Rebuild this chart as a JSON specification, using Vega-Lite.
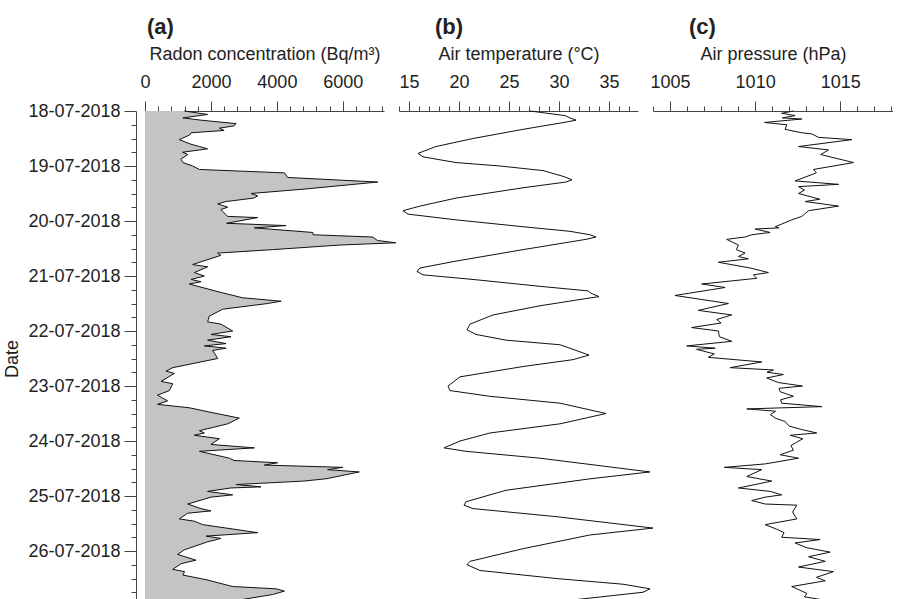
{
  "$schema": "https://vega.github.io/schema/vega-lite/v6.json",
  "padding": {"left": 3, "top": 16, "right": 0, "bottom": 0},
  "spacing": 15,
  "bounds": "flush",
  "config": {
    "view": {"stroke": null},
    "font": "Liberation Sans",
    "axis": {
      "labelFont": "Liberation Sans", "titleFont": "Liberation Sans",
      "labelFontSize": 18, "titleFontSize": 18, "titleFontWeight": "normal",
      "labelColor": "#222", "titleColor": "#222",
      "domainColor": "#444", "tickColor": "#444", "grid": false,
      "labelOverlap": false, "labelFlush": false
    },
    "title": {"font": "Liberation Sans", "fontSize": 22, "fontWeight": "bold", "color": "#222", "anchor": "start", "frame": "group", "offset": 6}
  },
  "datasets": {
    "radon": [
      {"d":"2018-07-18T00:00","v":1190},{"d":"2018-07-18T01:30","v":1900},{"d":"2018-07-18T03:00","v":1150},{"d":"2018-07-18T04:00","v":1700},
      {"d":"2018-07-18T05:30","v":2760},{"d":"2018-07-18T06:30","v":2700},{"d":"2018-07-18T07:30","v":2255},{"d":"2018-07-18T08:30","v":2400},
      {"d":"2018-07-18T09:30","v":1395},{"d":"2018-07-18T10:30","v":1350},{"d":"2018-07-18T12:30","v":1040},{"d":"2018-07-18T14:30","v":1395},
      {"d":"2018-07-18T15:30","v":1650},{"d":"2018-07-18T16:30","v":1900},{"d":"2018-07-18T18:00","v":1140},{"d":"2018-07-18T19:00","v":1300},
      {"d":"2018-07-18T21:00","v":1090},{"d":"2018-07-18T22:30","v":1150},{"d":"2018-07-19T00:00","v":1445},{"d":"2018-07-19T01:30","v":1650},
      {"d":"2018-07-19T03:00","v":4230},{"d":"2018-07-19T05:00","v":4330},{"d":"2018-07-19T07:00","v":7060},{"d":"2018-07-19T10:00","v":4890},
      {"d":"2018-07-19T12:00","v":3215},{"d":"2018-07-19T13:00","v":3420},{"d":"2018-07-19T14:00","v":3300},{"d":"2018-07-19T15:30","v":2460},
      {"d":"2018-07-19T16:30","v":2205},{"d":"2018-07-19T18:00","v":2510},{"d":"2018-07-19T19:00","v":2300},{"d":"2018-07-19T22:00","v":2510},
      {"d":"2018-07-19T22:30","v":3420},{"d":"2018-07-20T01:00","v":2475},{"d":"2018-07-20T02:00","v":4280},{"d":"2018-07-20T03:00","v":3320},
      {"d":"2018-07-20T05:00","v":5090},{"d":"2018-07-20T06:00","v":5100},{"d":"2018-07-20T07:00","v":6910},{"d":"2018-07-20T08:30","v":7050},
      {"d":"2018-07-20T09:30","v":7610},{"d":"2018-07-20T10:30","v":5900},{"d":"2018-07-20T12:30","v":3870},{"d":"2018-07-20T14:00","v":2205},
      {"d":"2018-07-20T15:00","v":2300},{"d":"2018-07-20T19:00","v":1445},{"d":"2018-07-20T20:00","v":1900},{"d":"2018-07-20T22:30","v":1495},
      {"d":"2018-07-21T00:00","v":1800},{"d":"2018-07-21T01:30","v":1400},{"d":"2018-07-21T02:30","v":1700},{"d":"2018-07-21T03:30","v":1345},
      {"d":"2018-07-21T07:00","v":2255},{"d":"2018-07-21T09:30","v":2960},{"d":"2018-07-21T11:00","v":4130},{"d":"2018-07-21T12:00","v":3720},
      {"d":"2018-07-21T14:30","v":2355},{"d":"2018-07-21T17:30","v":1950},{"d":"2018-07-21T20:00","v":1900},{"d":"2018-07-21T21:00","v":2305},
      {"d":"2018-07-22T00:00","v":2660},{"d":"2018-07-22T01:30","v":2000},{"d":"2018-07-22T02:30","v":2610},{"d":"2018-07-22T04:00","v":1900},
      {"d":"2018-07-22T05:30","v":2460},{"d":"2018-07-22T06:30","v":1800},{"d":"2018-07-22T07:30","v":2460},{"d":"2018-07-22T08:30","v":2050},
      {"d":"2018-07-22T09:30","v":2100},{"d":"2018-07-22T12:00","v":2205},{"d":"2018-07-22T16:00","v":840},{"d":"2018-07-22T17:30","v":640},
      {"d":"2018-07-22T18:30","v":890},{"d":"2018-07-22T22:00","v":485},{"d":"2018-07-22T23:00","v":840},{"d":"2018-07-23T02:00","v":740},
      {"d":"2018-07-23T04:00","v":380},{"d":"2018-07-23T06:30","v":685},{"d":"2018-07-23T08:00","v":380},{"d":"2018-07-23T09:30","v":1345},
      {"d":"2018-07-23T11:30","v":2000},{"d":"2018-07-23T14:00","v":2860},{"d":"2018-07-23T16:30","v":2510},{"d":"2018-07-23T19:30","v":1650},
      {"d":"2018-07-23T20:30","v":1800},{"d":"2018-07-23T21:30","v":1495},{"d":"2018-07-23T23:00","v":2255},{"d":"2018-07-24T01:30","v":2000},
      {"d":"2018-07-24T03:00","v":3320},{"d":"2018-07-24T04:30","v":1650},{"d":"2018-07-24T07:30","v":2560},{"d":"2018-07-24T08:30","v":2700},
      {"d":"2018-07-24T09:30","v":4020},{"d":"2018-07-24T10:30","v":3620},{"d":"2018-07-24T11:30","v":6000},{"d":"2018-07-24T12:30","v":5540},
      {"d":"2018-07-24T13:30","v":6500},{"d":"2018-07-24T16:30","v":5490},{"d":"2018-07-24T17:30","v":4800},{"d":"2018-07-24T19:00","v":2760},
      {"d":"2018-07-24T20:00","v":3520},{"d":"2018-07-24T20:30","v":2600},{"d":"2018-07-24T22:00","v":1900},{"d":"2018-07-24T23:30","v":2660},
      {"d":"2018-07-25T00:30","v":2000},{"d":"2018-07-25T03:30","v":1295},{"d":"2018-07-25T05:30","v":1700},{"d":"2018-07-25T06:30","v":2000},
      {"d":"2018-07-25T07:30","v":1295},{"d":"2018-07-25T10:00","v":1040},{"d":"2018-07-25T11:00","v":1500},{"d":"2018-07-25T12:30","v":1750},
      {"d":"2018-07-25T16:00","v":3420},{"d":"2018-07-25T17:30","v":1850},{"d":"2018-07-25T18:30","v":2305},{"d":"2018-07-25T20:00","v":1900},
      {"d":"2018-07-25T23:30","v":1190},{"d":"2018-07-26T01:30","v":990},{"d":"2018-07-26T04:00","v":1545},{"d":"2018-07-26T05:30","v":1100},
      {"d":"2018-07-26T08:00","v":840},{"d":"2018-07-26T09:00","v":1200},{"d":"2018-07-26T10:30","v":1150},{"d":"2018-07-26T12:30","v":1850},
      {"d":"2018-07-26T15:30","v":2660},{"d":"2018-07-26T16:30","v":3975},{"d":"2018-07-26T17:30","v":4230},{"d":"2018-07-26T19:00","v":3870},
      {"d":"2018-07-26T21:30","v":2810},{"d":"2018-07-27T00:00","v":2500}
    ],
    "temp": [
      {"d":"2018-07-18T00:00","v":27.1},{"d":"2018-07-18T02:00","v":30.6},{"d":"2018-07-18T03:00","v":31.1},{"d":"2018-07-18T04:00","v":31.7},
      {"d":"2018-07-18T05:00","v":30.5},{"d":"2018-07-18T08:00","v":26.4},{"d":"2018-07-18T12:00","v":21.4},{"d":"2018-07-18T15:30","v":17.7},
      {"d":"2018-07-18T18:30","v":15.9},{"d":"2018-07-18T20:00","v":16.4},{"d":"2018-07-18T22:30","v":19.7},{"d":"2018-07-19T00:00","v":24.1},
      {"d":"2018-07-19T02:00","v":28.4},{"d":"2018-07-19T04:30","v":30.4},{"d":"2018-07-19T06:00","v":31.3},{"d":"2018-07-19T07:00","v":30.7},
      {"d":"2018-07-19T09:30","v":26.4},{"d":"2018-07-19T14:00","v":19.7},{"d":"2018-07-19T17:30","v":16.1},{"d":"2018-07-19T19:30","v":14.4},
      {"d":"2018-07-19T21:00","v":14.9},{"d":"2018-07-19T23:30","v":19.7},{"d":"2018-07-20T02:30","v":26.4},{"d":"2018-07-20T04:30","v":31.1},
      {"d":"2018-07-20T06:00","v":33.1},{"d":"2018-07-20T07:00","v":33.7},{"d":"2018-07-20T08:00","v":32.7},{"d":"2018-07-20T12:30","v":26.4},
      {"d":"2018-07-20T17:30","v":19.7},{"d":"2018-07-20T20:30","v":16.1},{"d":"2018-07-20T22:00","v":15.8},{"d":"2018-07-20T23:30","v":16.4},
      {"d":"2018-07-21T01:30","v":21.4},{"d":"2018-07-21T04:30","v":28.1},{"d":"2018-07-21T06:30","v":32.9},{"d":"2018-07-21T07:30","v":33.2},
      {"d":"2018-07-21T09:00","v":34.0},{"d":"2018-07-21T09:30","v":33.2},{"d":"2018-07-21T13:00","v":28.1},{"d":"2018-07-21T17:00","v":23.4},
      {"d":"2018-07-21T21:00","v":21.1},{"d":"2018-07-21T23:30","v":20.8},{"d":"2018-07-22T01:30","v":21.7},{"d":"2018-07-22T04:00","v":24.7},
      {"d":"2018-07-22T06:00","v":30.1},{"d":"2018-07-22T08:00","v":31.4},{"d":"2018-07-22T10:30","v":33.0},{"d":"2018-07-22T12:30","v":31.4},
      {"d":"2018-07-22T15:30","v":26.4},{"d":"2018-07-22T20:00","v":20.1},{"d":"2018-07-23T00:00","v":18.9},{"d":"2018-07-23T02:00","v":19.1},
      {"d":"2018-07-23T04:30","v":23.1},{"d":"2018-07-23T07:30","v":30.1},{"d":"2018-07-23T12:00","v":34.7},{"d":"2018-07-23T16:30","v":30.1},
      {"d":"2018-07-23T20:30","v":23.1},{"d":"2018-07-24T00:00","v":20.1},{"d":"2018-07-24T03:00","v":18.5},{"d":"2018-07-24T04:30","v":20.7},
      {"d":"2018-07-24T07:30","v":28.1},{"d":"2018-07-24T13:30","v":39.1},{"d":"2018-07-24T16:30","v":33.1},{"d":"2018-07-24T21:30","v":24.7},
      {"d":"2018-07-25T02:30","v":20.7},{"d":"2018-07-25T04:00","v":20.5},{"d":"2018-07-25T05:30","v":21.4},{"d":"2018-07-25T09:00","v":29.7},
      {"d":"2018-07-25T14:00","v":39.4},{"d":"2018-07-25T17:00","v":33.1},{"d":"2018-07-25T23:00","v":26.4},{"d":"2018-07-26T04:30","v":21.1},
      {"d":"2018-07-26T06:00","v":20.8},{"d":"2018-07-26T08:30","v":22.1},{"d":"2018-07-26T12:00","v":29.7},{"d":"2018-07-26T14:30","v":36.4},
      {"d":"2018-07-26T16:30","v":39.1},{"d":"2018-07-26T18:00","v":38.4},{"d":"2018-07-26T21:30","v":31.1},{"d":"2018-07-27T00:00","v":28.5}
    ],
    "pres": [
      {"d":"2018-07-18T00:00","v":1012.25},{"d":"2018-07-18T01:00","v":1011.56},{"d":"2018-07-18T02:00","v":1012.35},{"d":"2018-07-18T03:00","v":1011.6},
      {"d":"2018-07-18T03:30","v":1012.74},{"d":"2018-07-18T05:00","v":1010.55},{"d":"2018-07-18T06:00","v":1011.86},{"d":"2018-07-18T08:00","v":1011.76},
      {"d":"2018-07-18T09:30","v":1012.74},{"d":"2018-07-18T10:00","v":1013.33},{"d":"2018-07-18T11:30","v":1013.72},{"d":"2018-07-18T12:30","v":1015.68},
      {"d":"2018-07-18T15:30","v":1012.55},{"d":"2018-07-18T17:00","v":1014.31},{"d":"2018-07-18T19:00","v":1013.85},{"d":"2018-07-18T22:30","v":1015.78},
      {"d":"2018-07-19T01:30","v":1013.43},{"d":"2018-07-19T03:00","v":1013.6},{"d":"2018-07-19T06:30","v":1012.35},{"d":"2018-07-19T08:00","v":1014.9},
      {"d":"2018-07-19T09:00","v":1012.55},{"d":"2018-07-19T10:30","v":1012.9},{"d":"2018-07-19T12:00","v":1012.55},{"d":"2018-07-19T14:30","v":1013.8},
      {"d":"2018-07-19T15:30","v":1012.94},{"d":"2018-07-19T17:30","v":1014.9},{"d":"2018-07-19T19:30","v":1013.14},{"d":"2018-07-19T22:00","v":1012.74},
      {"d":"2018-07-19T23:30","v":1012.15},{"d":"2018-07-20T02:30","v":1011.18},{"d":"2018-07-20T03:00","v":1011.4},{"d":"2018-07-20T03:30","v":1010.0},
      {"d":"2018-07-20T05:00","v":1010.88},{"d":"2018-07-20T06:00","v":1009.8},{"d":"2018-07-20T07:00","v":1009.41},{"d":"2018-07-20T08:00","v":1008.33},
      {"d":"2018-07-20T10:30","v":1009.02},{"d":"2018-07-20T12:30","v":1008.9},{"d":"2018-07-20T14:00","v":1009.41},{"d":"2018-07-20T15:30","v":1009.02},
      {"d":"2018-07-20T16:30","v":1009.6},{"d":"2018-07-20T18:00","v":1007.84},{"d":"2018-07-20T20:30","v":1009.7},{"d":"2018-07-20T22:30","v":1010.78},
      {"d":"2018-07-20T23:30","v":1009.9},{"d":"2018-07-21T01:00","v":1010.1},{"d":"2018-07-21T03:30","v":1006.86},{"d":"2018-07-21T05:00","v":1008.24},
      {"d":"2018-07-21T06:00","v":1007.4},{"d":"2018-07-21T08:30","v":1005.29},{"d":"2018-07-21T12:00","v":1008.43},{"d":"2018-07-21T15:00","v":1006.66},
      {"d":"2018-07-21T17:00","v":1008.63},{"d":"2018-07-21T19:00","v":1007.74},{"d":"2018-07-21T20:30","v":1008.0},{"d":"2018-07-21T22:30","v":1006.27},
      {"d":"2018-07-22T00:00","v":1007.84},{"d":"2018-07-22T02:30","v":1007.9},{"d":"2018-07-22T04:30","v":1008.63},{"d":"2018-07-22T06:30","v":1005.98},
      {"d":"2018-07-22T07:30","v":1007.65},{"d":"2018-07-22T08:00","v":1006.56},{"d":"2018-07-22T10:00","v":1007.6},{"d":"2018-07-22T11:30","v":1007.25},
      {"d":"2018-07-22T13:30","v":1010.39},{"d":"2018-07-22T16:00","v":1008.53},{"d":"2018-07-22T17:00","v":1011.08},{"d":"2018-07-22T18:00","v":1010.7},
      {"d":"2018-07-22T19:00","v":1011.66},{"d":"2018-07-22T20:30","v":1010.68},{"d":"2018-07-22T22:30","v":1011.37},{"d":"2018-07-23T00:00","v":1012.78},
      {"d":"2018-07-23T01:00","v":1011.4},{"d":"2018-07-23T02:30","v":1011.47},{"d":"2018-07-23T04:30","v":1012.25},{"d":"2018-07-23T06:00","v":1011.5},
      {"d":"2018-07-23T07:30","v":1011.56},{"d":"2018-07-23T09:00","v":1013.92},{"d":"2018-07-23T10:00","v":1009.51},{"d":"2018-07-23T11:00","v":1011.2},
      {"d":"2018-07-23T12:30","v":1010.9},{"d":"2018-07-23T14:00","v":1011.18},{"d":"2018-07-23T15:30","v":1011.76},{"d":"2018-07-23T17:30","v":1012.0},
      {"d":"2018-07-23T19:00","v":1012.74},{"d":"2018-07-23T20:30","v":1013.62},{"d":"2018-07-23T21:30","v":1012.06},{"d":"2018-07-23T23:00","v":1012.8},
      {"d":"2018-07-24T00:30","v":1012.45},{"d":"2018-07-24T02:00","v":1012.1},{"d":"2018-07-24T04:00","v":1012.25},{"d":"2018-07-24T06:00","v":1011.47},
      {"d":"2018-07-24T07:30","v":1012.55},{"d":"2018-07-24T10:00","v":1010.59},{"d":"2018-07-24T11:30","v":1008.19},{"d":"2018-07-24T12:30","v":1010.39},
      {"d":"2018-07-24T15:30","v":1009.51},{"d":"2018-07-24T17:30","v":1010.98},{"d":"2018-07-24T20:30","v":1009.02},{"d":"2018-07-24T22:00","v":1010.9},
      {"d":"2018-07-24T23:30","v":1011.56},{"d":"2018-07-25T00:30","v":1010.59},{"d":"2018-07-25T02:00","v":1009.8},{"d":"2018-07-25T03:30","v":1010.59},
      {"d":"2018-07-25T04:00","v":1012.45},{"d":"2018-07-25T07:00","v":1012.2},{"d":"2018-07-25T10:00","v":1012.45},{"d":"2018-07-25T12:30","v":1010.59},
      {"d":"2018-07-25T14:30","v":1011.27},{"d":"2018-07-25T16:00","v":1011.7},{"d":"2018-07-25T18:00","v":1011.56},{"d":"2018-07-25T19:00","v":1013.82},
      {"d":"2018-07-25T20:30","v":1012.35},{"d":"2018-07-25T22:30","v":1013.0},{"d":"2018-07-26T00:30","v":1014.41},{"d":"2018-07-26T02:30","v":1013.14},
      {"d":"2018-07-26T04:30","v":1014.12},{"d":"2018-07-26T07:00","v":1012.55},{"d":"2018-07-26T09:00","v":1014.6},{"d":"2018-07-26T11:30","v":1013.6},
      {"d":"2018-07-26T13:00","v":1014.12},{"d":"2018-07-26T15:30","v":1012.15},{"d":"2018-07-26T18:30","v":1013.04},{"d":"2018-07-26T20:00","v":1012.9},
      {"d":"2018-07-26T21:30","v":1014.12},{"d":"2018-07-27T00:00","v":1013.5}
    ]
  },
  "hconcat": [
    {
      "width": 239, "height": 495,
      "title": {"text": "(a)", "dx": 2},
      "data": {"name": "radon"},
      "encoding": {
        "y": {"field": "d", "type": "temporal",
          "scale": {"domain": [{"year": 2018, "month": 7, "date": 18}, {"year": 2018, "month": 7, "date": 27}], "reverse": true, "nice": false},
          "axis": {"title": "Date", "orient": "left", "offset": 9,
            "values": [
              {"year":2018,"month":7,"date":18,"hours":0},{"year":2018,"month":7,"date":18,"hours":6},{"year":2018,"month":7,"date":18,"hours":12},{"year":2018,"month":7,"date":18,"hours":18},
              {"year":2018,"month":7,"date":19,"hours":0},{"year":2018,"month":7,"date":19,"hours":6},{"year":2018,"month":7,"date":19,"hours":12},{"year":2018,"month":7,"date":19,"hours":18},
              {"year":2018,"month":7,"date":20,"hours":0},{"year":2018,"month":7,"date":20,"hours":6},{"year":2018,"month":7,"date":20,"hours":12},{"year":2018,"month":7,"date":20,"hours":18},
              {"year":2018,"month":7,"date":21,"hours":0},{"year":2018,"month":7,"date":21,"hours":6},{"year":2018,"month":7,"date":21,"hours":12},{"year":2018,"month":7,"date":21,"hours":18},
              {"year":2018,"month":7,"date":22,"hours":0},{"year":2018,"month":7,"date":22,"hours":6},{"year":2018,"month":7,"date":22,"hours":12},{"year":2018,"month":7,"date":22,"hours":18},
              {"year":2018,"month":7,"date":23,"hours":0},{"year":2018,"month":7,"date":23,"hours":6},{"year":2018,"month":7,"date":23,"hours":12},{"year":2018,"month":7,"date":23,"hours":18},
              {"year":2018,"month":7,"date":24,"hours":0},{"year":2018,"month":7,"date":24,"hours":6},{"year":2018,"month":7,"date":24,"hours":12},{"year":2018,"month":7,"date":24,"hours":18},
              {"year":2018,"month":7,"date":25,"hours":0},{"year":2018,"month":7,"date":25,"hours":6},{"year":2018,"month":7,"date":25,"hours":12},{"year":2018,"month":7,"date":25,"hours":18},
              {"year":2018,"month":7,"date":26,"hours":0},{"year":2018,"month":7,"date":26,"hours":6},{"year":2018,"month":7,"date":26,"hours":12},{"year":2018,"month":7,"date":26,"hours":18}
            ],
            "labelExpr": "hours(datum.value) === 0 ? timeFormat(datum.value, '%d-%m-%Y') : ''",
            "tickSize": 12,
            "tickDash": {"condition": {"test": "hours(datum.value) !== 0", "value": [5, 30]}, "value": []},
            "labelPadding": 4, "titlePadding": 6}},
        "x": {"field": "v", "type": "quantitative", "stack": null,
          "scale": {"domain": [0, 7250], "nice": false},
          "axis": {"title": "Radon concentration (Bq/m³)", "orient": "top", "format": "d",
            "values": [0,400,800,1200,1600,2000,2400,2800,3200,3600,4000,4400,4800,5200,5600,6000,6400,6800,7200],
            "labelExpr": "datum.value % 2000 === 0 ? datum.label : ''",
            "tickSize": 10,
            "tickDash": {"condition": {"test": "datum.value % 2000 !== 0", "value": [5, 30]}, "value": []},
            "labelPadding": 10, "titlePadding": 10}}
      },
      "layer": [
        {"mark": {"type": "area", "orient": "horizontal", "color": "#c3c4c4"}},
        {"mark": {"type": "line", "color": "#111", "strokeWidth": 1},
         "encoding": {"order": {"field": "d", "type": "temporal"}}}
      ]
    },
    {
      "width": 239, "height": 495,
      "title": {"text": "(b)", "dx": 36},
      "data": {"name": "temp"},
      "mark": {"type": "line", "color": "#111", "strokeWidth": 1},
      "encoding": {
        "y": {"field": "d", "type": "temporal",
          "scale": {"domain": [{"year": 2018, "month": 7, "date": 18}, {"year": 2018, "month": 7, "date": 27}], "reverse": true, "nice": false},
          "axis": null},
        "x": {"field": "v", "type": "quantitative",
          "scale": {"domain": [14, 37.9], "zero": false, "nice": false},
          "axis": {"title": "Air temperature (°C)", "orient": "top", "format": "d",
            "values": [14,15,16,17,18,19,20,21,22,23,24,25,26,27,28,29,30,31,32,33,34,35,36,37],
            "labelExpr": "datum.value % 5 === 0 ? datum.label : ''",
            "tickSize": 10,
            "tickDash": {"condition": {"test": "datum.value % 5 !== 0", "value": [5, 30]}, "value": []},
            "labelPadding": 10, "titlePadding": 10}},
        "order": {"field": "d", "type": "temporal"}
      }
    },
    {
      "width": 240, "height": 495,
      "title": {"text": "(c)", "dx": 36},
      "data": {"name": "pres"},
      "mark": {"type": "line", "color": "#111", "strokeWidth": 1},
      "encoding": {
        "y": {"field": "d", "type": "temporal",
          "scale": {"domain": [{"year": 2018, "month": 7, "date": 18}, {"year": 2018, "month": 7, "date": 27}], "reverse": true, "nice": false},
          "axis": null},
        "x": {"field": "v", "type": "quantitative",
          "scale": {"domain": [1004, 1018.1], "zero": false, "nice": false},
          "axis": {"title": "Air pressure (hPa)", "orient": "top", "format": "d",
            "values": [1004,1005,1006,1007,1008,1009,1010,1011,1012,1013,1014,1015,1016,1017,1018],
            "labelExpr": "datum.value % 5 === 0 ? datum.label : ''",
            "tickSize": 10,
            "tickDash": {"condition": {"test": "datum.value % 5 !== 0", "value": [5, 30]}, "value": []},
            "labelPadding": 10, "titlePadding": 10}},
        "order": {"field": "d", "type": "temporal"}
      }
    }
  ]
}
